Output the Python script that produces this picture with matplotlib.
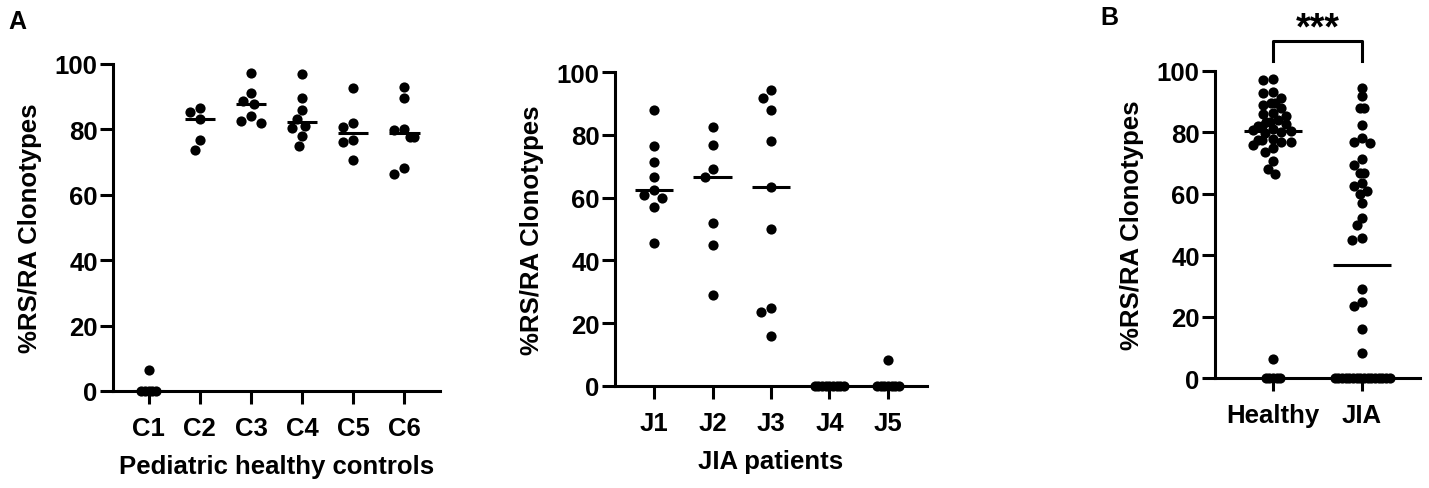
import matplotlib
matplotlib.use("Agg")
import matplotlib.pyplot as plt
import numpy as np

plt.rcParams['font.family'] = ['Liberation Sans', 'DejaVu Sans']
plt.rcParams['font.weight'] = 'bold'

# ---- data ----
control_names = ["C1", "C2", "C3", "C4", "C5", "C6"]
c1 = [0, 0, 0, 0, 0, 6.3]
c2 = [86.4, 85.4, 83.2, 76.7, 73.7]
c3 = [97.2, 91.1, 88.8, 87.8, 84.0, 82.6, 82.1]
c4 = [96.9, 89.6, 86.0, 83.2, 81.1, 80.3, 77.9, 74.8]
c5 = [92.7, 82.1, 80.8, 76.8, 76.0, 70.7]
c6 = [93.1, 89.6, 80.1, 79.9, 77.6, 77.6, 68.2, 66.5]
controls = [c1, c2, c3, c4, c5, c6]

patient_names = ["J1", "J2", "J3", "J4", "J5"]
j1 = [88.0, 76.4, 71.3, 66.6, 62.4, 61.0, 59.8, 56.9, 45.5]
j2 = [82.4, 76.8, 69.3, 66.6, 52.0, 44.8, 29.1]
j3 = [94.4, 91.7, 88.0, 78.2, 63.5, 49.9, 24.9, 23.6, 16.0]
j4 = [0, 0, 0, 0, 0, 0, 0, 0, 0]
j5 = [8.2, 0, 0, 0, 0, 0, 0, 0]
patients = [j1, j2, j3, j4, j5]

group_names = ["Healthy", "JIA"]
healthy = sum(controls, [])
jia = sum(patients, [])

W, H = 1429, 489
DOT = 10.2  # marker diameter in px
FS = 18.5


def swarm(values, ax, gap, diam=DOT):
    # simple beeswarm: x offsets (data units) for one column of points
    bb = ax.get_window_extent()
    xa, xb = ax.get_xlim()
    ya, yb = ax.get_ylim()
    px_x = bb.width / (xb - xa)
    px_y = bb.height / (yb - ya)
    vals = np.asarray(values, float)
    uniq, counts = np.unique(vals, return_counts=True)
    placed = []
    centre = {}
    cands = [0.0] + [s * j * 0.25 for j in range(1, 60) for s in (-1, 1)]
    for u in uniq[::-1]:
        y = u * px_y
        xo = 0.0
        for c in cands:
            xo = c * diam
            if all((xo - px) ** 2 + (y - py) ** 2 >= (gap * diam) ** 2
                   for py, px in placed):
                break
        placed.append((y, xo))
        centre[u] = xo
    offs = np.zeros(len(vals))
    for u, n in zip(uniq, counts):
        idx = np.where(vals == u)[0]
        spread = (np.arange(n) - (n - 1) / 2) * 0.36 * diam
        offs[idx] = (centre[u] + spread) / px_x
    return vals, offs


def style(ax, names, xlim):
    ax.set_xlim(*xlim)
    ax.set_ylim(0, 100)
    for s in ("top", "right"):
        ax.spines[s].set_visible(False)
    for s in ("left", "bottom"):
        ax.spines[s].set_linewidth(2.2)
    ax.spines["left"].set_bounds(0, 100)
    ax.set_yticks(range(0, 101, 20))
    ax.set_xticks(range(1, len(names) + 1))
    ax.set_xticklabels(names)
    ax.tick_params(axis="both", length=9.5, width=2.2, labelsize=FS)
    ax.tick_params(axis="x", pad=8.5)
    ax.tick_params(axis="y", pad=1.5)
    ax.set_ylabel("%RS/RA Clonotypes", fontsize=FS, fontweight="bold", labelpad=9)


def draw_groups(ax, groups, half, gap):
    for i, g in enumerate(groups, start=1):
        v, o = swarm(g, ax, gap)
        ax.scatter(i + o, v, s=(DOT * 0.72) ** 2, color="black", zorder=5,
                   clip_on=False, linewidths=0)
        med = np.median(g)
        ax.plot([i - half, i + half], [med, med], color="black", lw=2.2,
                zorder=6, solid_capstyle="butt")


fig = plt.figure(figsize=(W / 100, H / 100), dpi=100)

# panel A, controls
ax1 = fig.add_axes([113 / W, 1 - 392 / H, 327 / W, 327 / H])
style(ax1, control_names, (0.3, 6.7))
draw_groups(ax1, controls, 0.3, 1.0)
ax1.set_xlabel("Pediatric healthy controls", fontsize=FS, fontweight="bold", labelpad=10)

# panel A, patients
ax2 = fig.add_axes([615 / W, 1 - 386.7 / H, 312 / W, 313.4 / H])
style(ax2, patient_names, (0.33, 5.67))
draw_groups(ax2, patients, 0.33, 1.0)
ax2.set_xlabel("JIA patients", fontsize=FS, fontweight="bold", labelpad=10)

# panel B
ax3 = fig.add_axes([1215 / W, 1 - 379.3 / H, 205 / W, 307.6 / H])
style(ax3, group_names, (0.35, 2.65))
draw_groups(ax3, [healthy, jia], 0.33, 0.8)

# significance bracket
ax3.plot([1, 1, 2, 2], [103.3, 109.6, 109.6, 103.3], color="black", lw=2.2,
         clip_on=False)
ax3.text(1.5, 113.8, "***", ha="center", va="center", fontsize=27,
         fontweight="bold")

fig.text(8 / W, 1 - 10 / H, "A", fontsize=18, fontweight="bold", va="top")
fig.text(1100 / W, 1 - 6 / H, "B", fontsize=18, fontweight="bold", va="top")

fig.savefig("out.png", dpi=100)
